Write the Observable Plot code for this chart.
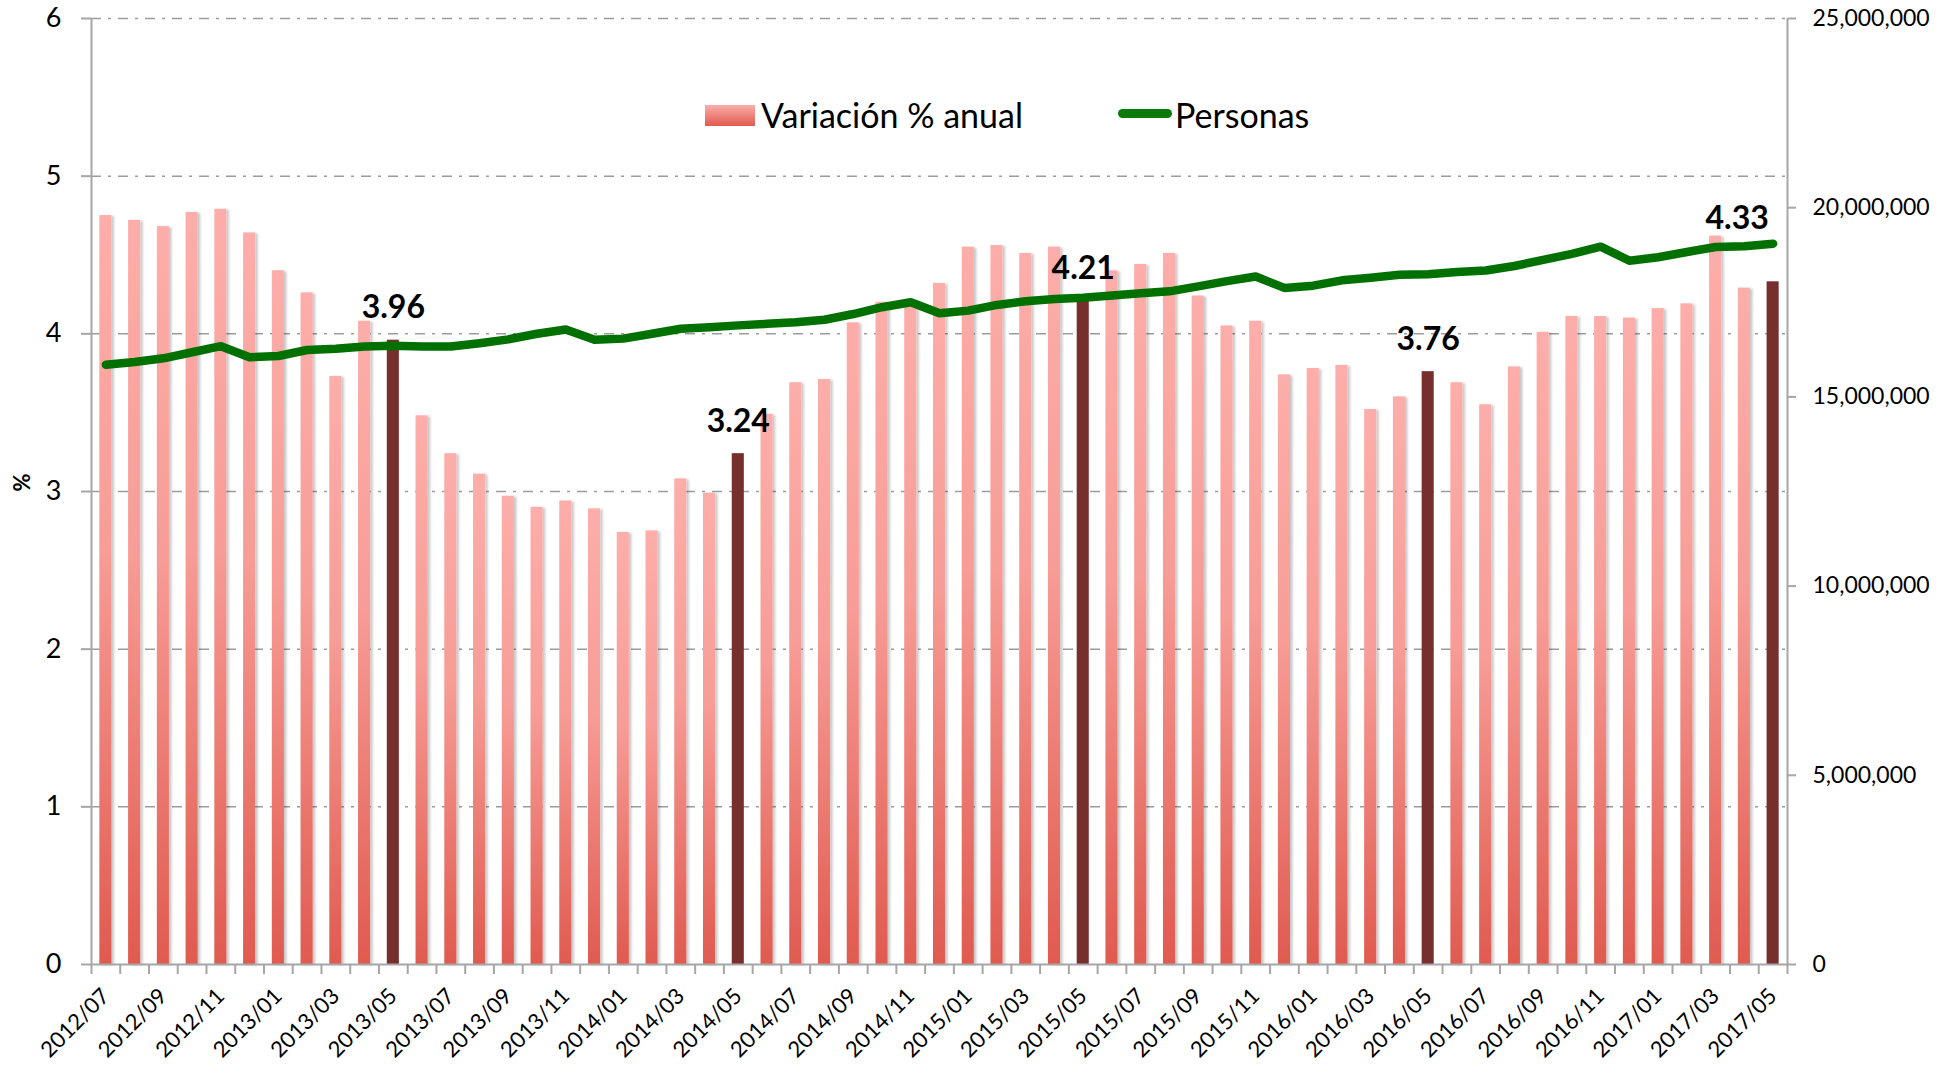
<!DOCTYPE html>
<html><head><meta charset="utf-8">
<script src="https://cdn.jsdelivr.net/npm/d3@7"></script>
<script src="https://cdn.jsdelivr.net/npm/@observablehq/plot@0.6"></script>
<style>
body{margin:0;background:#fff;}
#wrap{position:relative;width:1937px;height:1067px;font-family:Lato, sans-serif;}
.leg{position:absolute;font-size:34px;line-height:34px;color:#000;white-space:nowrap;font-family:Lato, sans-serif;}
</style></head><body><div id="wrap"></div>
<script>
const categorias = ["2012/07","2012/08","2012/09","2012/10","2012/11","2012/12",
"2013/01","2013/02","2013/03","2013/04","2013/05","2013/06","2013/07","2013/08","2013/09","2013/10","2013/11","2013/12",
"2014/01","2014/02","2014/03","2014/04","2014/05","2014/06","2014/07","2014/08","2014/09","2014/10","2014/11","2014/12",
"2015/01","2015/02","2015/03","2015/04","2015/05","2015/06","2015/07","2015/08","2015/09","2015/10","2015/11","2015/12",
"2016/01","2016/02","2016/03","2016/04","2016/05","2016/06","2016/07","2016/08","2016/09","2016/10","2016/11","2016/12",
"2017/01","2017/02","2017/03","2017/04","2017/05"];
const variacion = [4.75,4.72,4.68,4.77,4.79,4.64,4.40,4.26,3.73,4.08,3.96,3.48,3.24,3.11,2.97,2.90,2.94,2.89,
2.74,2.75,3.08,2.99,3.24,3.49,3.69,3.71,4.07,4.20,4.21,4.32,
4.55,4.56,4.51,4.55,4.21,4.40,4.44,4.51,4.24,4.05,4.08,3.74,
3.78,3.80,3.52,3.60,3.76,3.69,3.55,3.79,4.01,4.11,4.11,4.10,
4.16,4.19,4.62,4.29,4.33];
const personas = [15850000,15920000,16020000,16180000,16340000,16050000,16080000,16240000,16270000,16330000,
16350000,16330000,16330000,16420000,16520000,16670000,16780000,16510000,16540000,16670000,
16800000,16840000,16890000,16930000,16970000,17040000,17190000,17370000,17500000,17210000,
17280000,17430000,17530000,17590000,17620000,17680000,17740000,17790000,17920000,18060000,
18180000,17880000,17940000,18080000,18150000,18230000,18240000,18300000,18340000,18460000,
18620000,18780000,18970000,18600000,18690000,18830000,18960000,18980000,19050000];
const destacados = ["2013/05","2014/05","2015/05","2016/05","2017/05"];
const ticksIzq = [0,1,2,3,4,5,6];
const ticksDer = [0,5000000,10000000,15000000,20000000,25000000];

const W = 1937, H = 1067, mL = 91, mR = 150, mT = 18, mB = 103;
const yMax = 6, derMax = 25000000;
const toLeft = v => v * yMax / derMax;
const ultimo = categorias[categorias.length - 1];
const data = categorias.map((c, i) => ({mes: c, pct: variacion[i], personas: personas[i], dest: destacados.includes(c)}));
const step = (W - mL - mR) / categorias.length;
const xEtiquetas = categorias.filter((d, i) => i % 2 === 0);
const gris = "#a6a6a6";
const ns = "http://www.w3.org/2000/svg";
const defsMark = () => {
  const d = document.createElementNS(ns, "defs");
  d.innerHTML = '<linearGradient id="barGrad" x1="0" y1="0" x2="0" y2="1"><stop offset="0" stop-color="#fdaeaa"/><stop offset="0.45" stop-color="#f79c96"/><stop offset="1" stop-color="#e05a4f"/></linearGradient>' +
    '<filter id="barShadow" x="-60%" y="-5%" width="220%" height="110%"><feDropShadow dx="2.5" dy="1" stdDeviation="1.3" flood-color="#000" flood-opacity="0.22"/></filter>';
  return d;
};

const chart = Plot.plot({
  width: W, height: H, marginLeft: mL, marginRight: mR, marginTop: mT, marginBottom: mB,
  style: {fontFamily: "Lato, sans-serif", background: "#fff", color: "#000", overflow: "visible"},
  x: {domain: categorias, paddingInner: 0.58, paddingOuter: 0.29},
  y: {domain: [0, yMax]},
  marks: [
    defsMark,
    Plot.gridY(ticksIzq.filter(d => d > 0), {stroke: "#9c9c9c", strokeOpacity: 1, strokeWidth: 1.5, strokeDasharray: "10,7,3,7"}),
    Plot.barY(data.filter(d => !d.dest), {x: "mes", y: "pct", fill: "url(#barGrad)"}),
    Plot.barY(data.filter(d => d.dest), {x: "mes", y: "pct", fill: "#772f2d"}),
    Plot.ruleY([0], {stroke: gris, strokeWidth: 2}),
    Plot.ruleX([categorias[0]], {x: d => d, dx: -step / 2, stroke: gris, strokeWidth: 2}),
    Plot.ruleX([ultimo], {x: d => d, dx: step / 2, stroke: gris, strokeWidth: 2}),
    Plot.axisX({ticks: categorias, tickSize: 10, fill: "none", dx: -step / 2, stroke: gris, strokeWidth: 2, label: null}),
    Plot.axisX({ticks: [ultimo], tickSize: 10, fill: "none", dx: step / 2, stroke: gris, strokeWidth: 2, label: null}),
    Plot.axisX({ticks: xEtiquetas, tickSize: 0, tickRotate: -45, tickPadding: 28, fontSize: 22, fill: "#000", label: null}),
    Plot.axisY({ticks: ticksIzq, anchor: "left", tickSize: 10, tickPadding: 20, fontSize: 27, stroke: gris, strokeWidth: 2, fill: "#000", label: null,
      tickFormat: d3.format("d")}),
    Plot.axisY({ticks: ticksDer.map(toLeft), anchor: "right", tickSize: 8, tickPadding: 17, fontSize: 23, stroke: gris, strokeWidth: 2, fill: "#000", label: null,
      tickFormat: d => d3.format(",")(Math.round(d * derMax / yMax))}),
    Plot.text(["%"], {frameAnchor: "left", dx: -69, rotate: -90, fontWeight: "bold", fontSize: 22, fill: "#000"}),
    Plot.line(data, {x: "mes", y: d => toLeft(d.personas), stroke: "#007000", strokeWidth: 8.5, strokeLinejoin: "round", strokeLinecap: "round"}),
    Plot.text(data.filter(d => d.dest && d.mes !== ultimo), {x: "mes", y: "pct", text: d => d.pct.toFixed(2), dy: -22, lineAnchor: "bottom", fontSize: 32, fontWeight: "bold", fill: "#000"}),
    Plot.text(data.filter(d => d.mes === ultimo), {x: "mes", y: "pct", text: d => d.pct.toFixed(2), dx: -36, dy: -53, lineAnchor: "bottom", fontSize: 32, fontWeight: "bold", fill: "#000"})
  ]
});
chart.querySelectorAll('g[fill="url(#barGrad)"]').forEach(g => g.setAttribute("filter", "url(#barShadow)"));
const wrap = document.getElementById("wrap");
wrap.appendChild(chart);

const leg = document.createElement("div");
leg.innerHTML =
  '<div style="position:absolute;left:705px;top:105px;width:50px;height:21px;background:linear-gradient(#fdaeaa,#e05a4f);"></div>' +
  '<div class="leg" style="left:761px;top:98px;">Variación % anual</div>' +
  '<div style="position:absolute;left:1118px;top:109px;width:54px;height:9px;border-radius:4.5px;background:#0a7a0a;"></div>' +
  '<div class="leg" style="left:1175px;top:98px;">Personas</div>';
wrap.appendChild(leg);
</script></body></html>
